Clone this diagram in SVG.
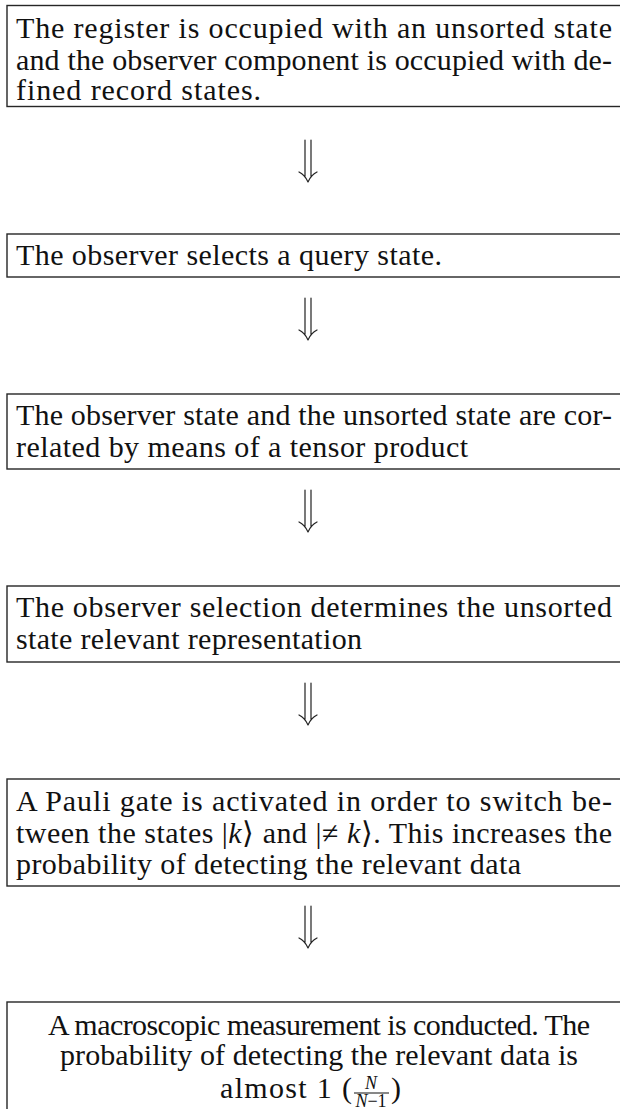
<svg xmlns="http://www.w3.org/2000/svg" width="620" height="1109" viewBox="0 0 620 1109">
<style>
.box{fill:#fff;stroke:#262626;stroke-width:1.4}
.t{font-family:'Liberation Serif','Times New Roman',Times,serif;font-size:30px;fill:#111}
.s{font-size:18px}
.c{text-anchor:middle}
.i{font-style:italic}
.arr{fill:none;stroke:#222;stroke-width:1.2;stroke-linecap:round;stroke-linejoin:round}
</style>
<defs>
<g id="dn">
<path class="arr" d="M305,0 V36 M311,0 V36 M299,32 Q305,35 308,42 Q311,35 317,32"/>
</g>
</defs>
<rect width="620" height="1109" fill="#fff"/>
<g id="connectors">
<use href="#dn" y="140"/>
<use href="#dn" y="298"/>
<use href="#dn" y="490"/>
<use href="#dn" y="683"/>
<use href="#dn" y="906"/>
</g>
<g id="node1">
<rect class="box" x="7" y="5.5" width="618" height="101"/>
<text class="t" x="16" y="38" textLength="596" lengthAdjust="spacing">The register is occupied with an unsorted state</text>
<text class="t" x="16" y="70" textLength="596" lengthAdjust="spacing">and the observer component is occupied with de-</text>
<text class="t" x="16" y="100" textLength="245" lengthAdjust="spacing">fined record states.</text>
</g>
<g id="node2">
<rect class="box" x="7" y="234" width="618" height="43"/>
<text class="t" x="16" y="265" textLength="426" lengthAdjust="spacing">The observer selects a query state.</text>
</g>
<g id="node3">
<rect class="box" x="7" y="394" width="618" height="75"/>
<text class="t" x="16" y="425" textLength="596" lengthAdjust="spacing">The observer state and the unsorted state are cor-</text>
<text class="t" x="16" y="457" textLength="452" lengthAdjust="spacing">related by means of a tensor product</text>
</g>
<g id="node4">
<rect class="box" x="7" y="586" width="618" height="76"/>
<text class="t" x="16" y="617" textLength="596" lengthAdjust="spacing">The observer selection determines the unsorted</text>
<text class="t" x="16" y="649" textLength="346" lengthAdjust="spacing">state relevant representation</text>
</g>
<g id="node5">
<rect class="box" x="7" y="779" width="618" height="107"/>
<text class="t" x="16" y="811" textLength="596" lengthAdjust="spacing">A Pauli gate is activated in order to switch be-</text>
<text class="t" x="16" y="843" textLength="596" lengthAdjust="spacing">tween the states |<tspan class="i">k</tspan>⟩ and |≠ <tspan class="i">k</tspan>⟩. This increases the</text>
<text class="t" x="16" y="874" textLength="505" lengthAdjust="spacing">probability of detecting the relevant data</text>
</g>
<g id="node6">
<rect class="box" x="7" y="1002" width="618" height="120"/>
<text class="t" x="48" y="1035" textLength="542" lengthAdjust="spacing">A macroscopic measurement is conducted. The</text>
<text class="t" x="60" y="1065" textLength="518" lengthAdjust="spacing">probability of detecting the relevant data is</text>
<text class="t" x="220" y="1098" textLength="132" lengthAdjust="spacing">almost 1 (</text>
<text class="t s i c" x="371" y="1089">N</text>
<line x1="354" y1="1093" x2="389" y2="1093" stroke="#111" stroke-width="1"/>
<text class="t s c" x="371" y="1107"><tspan class="i">N</tspan>−1</text>
<text class="t" x="391" y="1098">)</text>
</g>
</svg>
